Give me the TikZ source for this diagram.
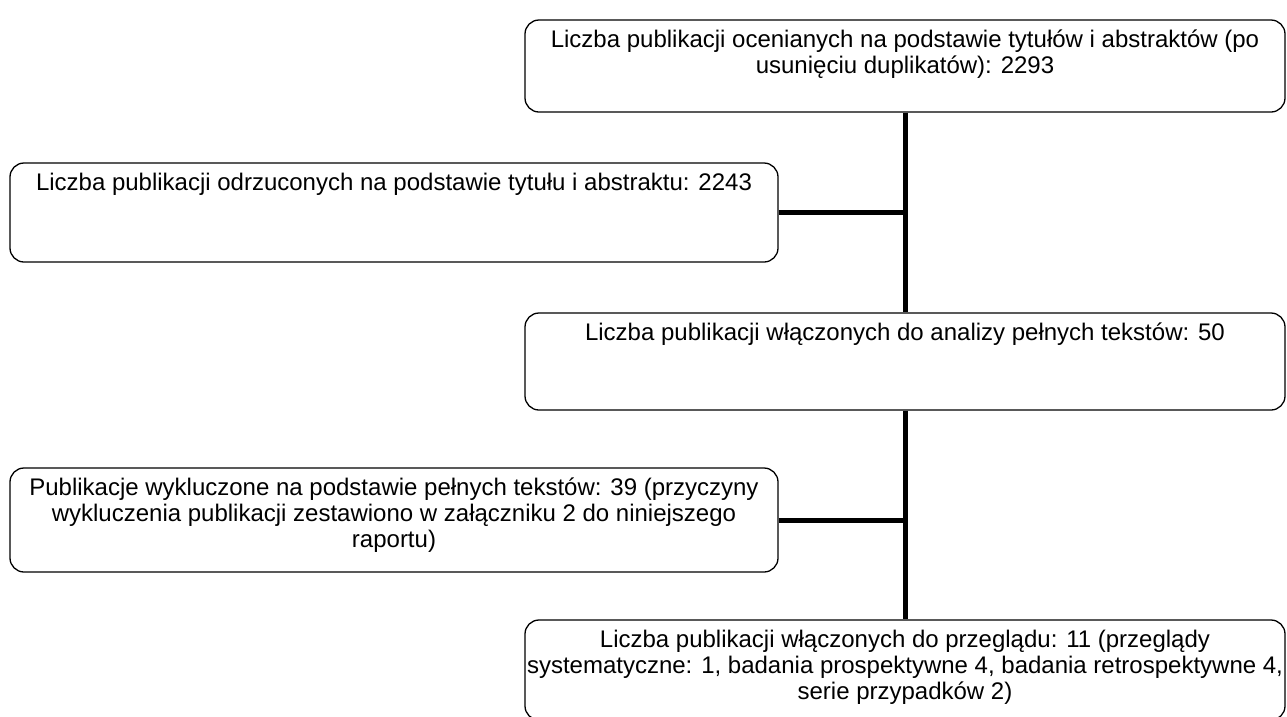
\documentclass[tikz,border=0pt]{standalone}
\usepackage{fontspec}
\setmainfont{Liberation Sans}
\usetikzlibrary{positioning}

% text sits at the top of each box
\newcommand{\boxtext}[3]{\parbox[c][#2][t]{#1}{\centering\rule{0pt}{27.5pt}#3}}

\begin{document}
\begin{tikzpicture}[x=1pt, y=-1pt,
    flowbox/.style={draw, line width=1.3pt, rounded corners=14pt, inner sep=0pt,
        font=\fontsize{24}{26}\selectfont},
    joint/.style={line width=5pt}]
    \useasboundingbox (0,0) rectangle (1287,716);

    % main column
    \node[flowbox] (ocena) at (905,66) {\boxtext{760pt}{92pt}{Liczba publikacji ocenianych na podstawie tytułów i abstraktów (po\\ usunięciu duplikatów): 2293}};
    \node[flowbox] (pelne) at (905,361.5) {\boxtext{760pt}{97pt}{Liczba publikacji włączonych do analizy pełnych tekstów: 50}};
    \node[flowbox] (przeglad) at (905,670) {\boxtext{760pt}{100pt}{Liczba publikacji włączonych do przeglądu: 11 (przeglądy\\ systematyczne: 1, badania prospektywne 4, badania retrospektywne 4,\\ serie przypadków 2)}};

    % side boxes
    \node[flowbox] (odrzucone) at (394,212.5) {\boxtext{768pt}{99pt}{Liczba publikacji odrzuconych na podstawie tytułu i abstraktu: 2243}};
    \node[flowbox] (wykluczone) at (394,520) {\boxtext{768pt}{104pt}{Publikacje wykluczone na podstawie pełnych tekstów: 39 (przyczyny\\ wykluczenia publikacji zestawiono w załączniku 2 do niniejszego\\ raportu)}};

    % connectors
    \draw[joint] (ocena.south) -- (pelne.north);
    \draw[joint] (pelne.south) -- (przeglad.north);
    \draw[joint] (odrzucone.east) -- (odrzucone.east -| ocena.south);
    \draw[joint] (wykluczone.east) -- (wykluczone.east -| pelne.south);
\end{tikzpicture}
\end{document}
